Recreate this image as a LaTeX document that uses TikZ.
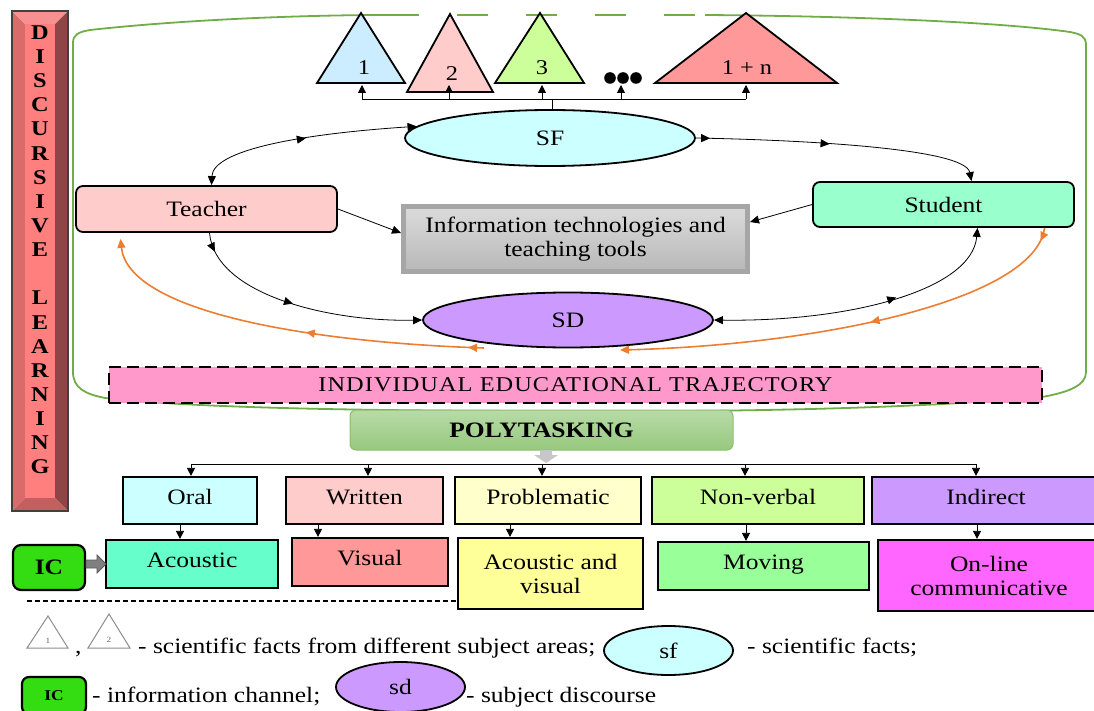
\documentclass[tikz,border=0pt]{standalone}
\usepackage{fontspec}
\setmainfont{Liberation Serif}[FakeStretch=1.16]
\usetikzlibrary{arrows.meta,decorations.markings,shapes.geometric}
\definecolor{cTa}{HTML}{CCECFF}
\definecolor{cTb}{HTML}{FFCCCC}
\definecolor{cTc}{HTML}{CCFF99}
\definecolor{cTn}{HTML}{FF9999}
\definecolor{cSF}{HTML}{CCFFFF}
\definecolor{cSD}{HTML}{CC99FF}
\definecolor{cTeach}{HTML}{FFCCCC}
\definecolor{cStud}{HTML}{99FFCC}
\definecolor{cPink}{HTML}{FF99CC}
\definecolor{cOral}{HTML}{CCFFFF}
\definecolor{cWrit}{HTML}{FFCCCC}
\definecolor{cProb}{HTML}{FFFFCC}
\definecolor{cNonv}{HTML}{CCFF99}
\definecolor{cIndi}{HTML}{CC99FF}
\definecolor{cAcou}{HTML}{66FFCC}
\definecolor{cVisu}{HTML}{FF9999}
\definecolor{cAV}{HTML}{FFFF99}
\definecolor{cMov}{HTML}{99FF99}
\definecolor{cOnl}{HTML}{FF66FF}
\definecolor{cIC}{HTML}{33DD11}
\definecolor{cOrange}{HTML}{ED7D31}
\definecolor{cGreen}{HTML}{70AD47}
\definecolor{barF}{HTML}{FF7F7F}
\definecolor{barL}{HTML}{D96B6B}
\definecolor{barR}{HTML}{8E4545}
\definecolor{barT}{HTML}{F79090}
\definecolor{barB}{HTML}{C45F5F}
\begin{document}
\begin{tikzpicture}[x=1pt,y=-1pt,
  base/.style={inner sep=0pt, align=center, font=\fontsize{22}{24}\selectfont},
  rnd/.style={base, rectangle, draw=black, line width=1.8pt, rounded corners=7pt},
  rowbox/.style={base, rectangle, draw=black, line width=2.2pt, text height=15pt, text depth=8pt},
  twobox/.style={base, rectangle, draw=black, line width=2.2pt},
  ell/.style={base, ellipse, draw=black, line width=1.8pt},
  tri/.style={draw=black, line width=1.8pt, line join=miter},
  trilabel/.style={inner sep=0pt, font=\fontsize{21}{22}\selectfont},
  conn/.style={draw=black, line width=0.8pt},
  tip/.style={-{Triangle[length=9pt,width=8pt]}},
  stip/.style={-{Triangle[length=8pt,width=8pt]}},
  both/.style={{Triangle[length=9pt,width=8pt]}-{Triangle[length=9pt,width=8pt]}},
  mk/.style={postaction={decorate,decoration={markings,mark=at position #1 with {\arrow{Triangle[length=9pt,width=8pt]}}}}},
  orange/.style={draw=cOrange, line width=1.6pt},
  grline/.style={draw=cGreen, line width=1.8pt},
  barletter/.style={inner sep=0pt, font=\fontsize{21}{22}\selectfont\bfseries},
  legtext/.style={inner sep=0pt, anchor=base west, font=\fontsize{22}{24}\selectfont}
]
\useasboundingbox (0,0) rectangle (1094,711);

% ---------- left bar ----------
\fill[barL] (12,11) -- (25,24) -- (25,498) -- (12,511) -- cycle;
\fill[barR] (68,11) -- (55,24) -- (55,498) -- (68,511) -- cycle;
\fill[barT] (12,11) -- (68,11) -- (55,24) -- (25,24) -- cycle;
\fill[barB] (12,511) -- (68,511) -- (55,498) -- (25,498) -- cycle;
\fill[barF] (25,24) rectangle (55,498);
\draw[line width=1.2pt, draw=black!75] (12,11) rectangle (68,511);
\foreach \l [count=\i] in {D,I,S,C,U,R,S,I,V,E,{},L,E,A,R,N,I,N,G}
  \node[barletter] (bl\i) at (40,{32.5+(\i-1)*24.14}) {\l};

% ---------- green outline ----------
\draw[grline] (388,15) -- (386,15) .. controls (300,15) and (180,20) .. (90,30)
  .. controls (78,32) and (73,35) .. (73,43) -- (73,372)
  .. controls (73,388) and (85,394) .. (105,398)
  .. controls (200,409) and (400,411) .. (560,411)
  .. controls (700,412) and (900,410) .. (1042,397)
  .. controls (1070,392) and (1086,385) .. (1086,372) -- (1086,45)
  .. controls (1086,36) and (1080,34) .. (1070,32)
  .. controls (1000,22) and (850,16) .. (705,15);
\draw[grline, dash pattern=on 31pt off 38pt] (388,15) -- (705,15);

% ---------- triangles ----------
\filldraw[tri, fill=cTa] (317,83) -- (361,13) -- (405,83) -- cycle;
\filldraw[tri, fill=cTb] (407,92) -- (450,14) -- (493,92) -- cycle;
\filldraw[tri, fill=cTc] (495,83) -- (540,13) -- (584,83) -- cycle;
\filldraw[tri, fill=cTn] (655,83) -- (746,13) -- (837,83) -- cycle;
\node[trilabel] (lt1) at (364,68) {1};
\node[trilabel] (lt2) at (452,74) {2};
\node[trilabel] (lt3) at (542,68) {3};
\node[trilabel] (ltn) at (747,68) {1 + n};
\fill (610,78) circle (5.8pt) (623,78) circle (5.8pt) (636,78) circle (5.8pt);

% ---------- main nodes ----------
\node[ell, fill=cSF, minimum width=290pt, minimum height=56pt] (SF) at (550,138) {SF};
\node[ell, fill=cSD, minimum width=290pt, minimum height=55pt] (SD) at (568,320) {SD};
\node[rnd, fill=cTeach, minimum width=261pt, minimum height=46pt] (teacher) at (206.5,209) {Teacher};
\node[rnd, fill=cStud, minimum width=261pt, minimum height=45pt] (student) at (943.5,204.5) {Student};
\node[base, rectangle, draw=black!35, line width=5pt, top color=black!14, bottom color=black!28,
      minimum width=344pt, minimum height=65pt] (info) at (575.5,239)
      {Information technologies and\\teaching tools};

% ---------- tree to triangles ----------
\coordinate (stem) at (552,99);
\foreach \x [count=\i] in {362,449,542,621,746} {
  \coordinate (ta\i) at (\x,99);
  \coordinate (tt\i) at (\x,85);
}
\draw[conn] ([xshift=2pt]SF.north) -- (stem);
\draw[conn] (ta1) -- (ta5);
\foreach \i in {1,...,5} \draw[conn, stip] (ta\i) -- (tt\i);

% ---------- black connectors ----------
\draw[conn, both, mk=0.5] ([xshift=5pt]teacher.north) .. controls (213,150) and (300,134) .. (SF.175);
\draw[conn, tip, mk=0.05, mk=0.47] (SF.east) .. controls (800,140) and (965,148) .. ([xshift=28pt]student.north);
\draw[conn, tip, mk=0.08, mk=0.47] ([xshift=3pt]teacher.south) .. controls (215,295) and (330,322) .. (SD.west);
\draw[conn, both, mk=0.62] (SD.east) .. controls (850,322) and (972,290) .. ([xshift=34pt]student.south);
\draw[conn, tip] (teacher.east) -- ([yshift=6pt]info.west);
\draw[conn, tip] (student.west) -- ([yshift=17pt]info.east);

% ---------- orange connectors ----------
\coordinate (oa) at (484,348);
\coordinate (ob) at (620,350);
\draw[orange, tip, mk=0.04, mk=0.45] (oa) .. controls (300,342) and (128,310) .. ([xshift=-86pt,yshift=-6pt]teacher.south);
\draw[orange, tip, mk=0.03, mk=0.45] ([xshift=101pt]student.south) .. controls (1035,300) and (820,345) .. (ob);

% ---------- trajectory & polytasking ----------
\node[base, rectangle, draw=black, fill=cPink, line width=2.5pt, dash pattern=on 12pt off 6pt,
      minimum width=933pt, minimum height=36pt,
      font=\fontsize{21}{23}\selectfont\addfontfeature{LetterSpace=5}] (traj) at (575.5,385)
      {INDIVIDUAL EDUCATIONAL TRAJECTORY};
\node[base, rectangle, rounded corners=6pt, draw=cGreen!80, line width=1pt,
      top color={rgb,255:red,184;green,219;blue,168}, bottom color={rgb,255:red,151;green,201;blue,126},
      minimum width=383pt, minimum height=40pt, font=\fontsize{22}{24}\selectfont\bfseries] (poly) at (541.5,430)
      {POLYTASKING};
\fill[black!22] (540,450) -- (552,450) -- (552,455) -- (558,455) -- (546,463) -- (534,455) -- (540,455) -- cycle;

% ---------- rows ----------
\node[rowbox, fill=cOral, minimum width=134pt, minimum height=47pt] (oral) at (190,500.5) {Oral};
\node[rowbox, fill=cWrit, minimum width=157pt, minimum height=47pt] (written) at (364.5,500.5) {Written};
\node[rowbox, fill=cProb, minimum width=186pt, minimum height=47pt] (probl) at (548,500.5) {Problematic};
\node[rowbox, fill=cNonv, minimum width=212pt, minimum height=47pt] (nonv) at (758,500.5) {Non-verbal};
\node[rowbox, fill=cIndi, minimum width=228pt, minimum height=47pt] (indir) at (986,500.5) {Indirect};

\node[rowbox, fill=cAcou, minimum width=172pt, minimum height=48pt] (acou) at (192,564) {Acoustic};
\node[rowbox, fill=cVisu, minimum width=156pt, minimum height=48pt] (visu) at (370,562) {Visual};
\node[twobox, fill=cAV, minimum width=185pt, minimum height=71pt] (av) at (550.5,573.5) {Acoustic and\\visual};
\node[rowbox, fill=cMov, minimum width=211pt, minimum height=48pt] (mov) at (763.5,566) {Moving};
\node[twobox, fill=cOnl, minimum width=222pt, minimum height=71pt] (onl) at (989,575.5) {On-line\\communicative};

\foreach \x [count=\i] in {191,368,542,745,976} \coordinate (h\i) at (\x,464);
\draw[conn] (h1) -- (h5);
\draw[conn, stip] (h1) -- (h1 |- oral.north);
\draw[conn, stip] (h2) -- (h2 |- written.north);
\draw[conn, stip] (h3) -- (h3 |- probl.north);
\draw[conn, stip] (h4) -- (h4 |- nonv.north);
\draw[conn, stip] (h5) -- (h5 |- indir.north);

\draw[conn, stip] ([xshift=-10pt]oral.south) -- ([xshift=-10pt]oral.south |- acou.north);
\draw[conn, stip] ([xshift=-46.5pt]written.south) -- ([xshift=-46.5pt]written.south |- visu.north);
\draw[conn, stip] ([xshift=-38pt]probl.south) -- ([xshift=-38pt]probl.south |- av.north);
\draw[conn, stip] ([xshift=-12pt]nonv.south) -- ([xshift=-12pt]nonv.south |- mov.north);
\draw[conn, stip] ([xshift=-9pt]indir.south) -- ([xshift=-9pt]indir.south |- onl.north);

% ---------- IC ----------
\node[base, rectangle, rounded corners=8pt, draw=black, line width=2.2pt, fill=cIC,
      minimum width=72pt, minimum height=45pt, font=\fontsize{22}{24}\selectfont\bfseries] (ic) at (49,567.5) {IC};
\filldraw[fill=black!50, draw=black!65, line width=0.8pt]
  (86,560) -- (97,560) -- (97,555) -- (106,564) -- (97,573) -- (97,568) -- (86,568) -- cycle;

\coordinate (dl) at (27,601);
\draw[line width=1.6pt, dash pattern=on 5pt off 3pt] (dl) -- (dl -| av.west);

% ---------- legend ----------
\draw[draw=black!45, line width=1pt] (27,648) -- (48,616) -- (68,648) -- cycle;
\draw[draw=black!45, line width=1pt] (88,648) -- (109,614) -- (130,648) -- cycle;
\node[inner sep=0pt, font=\fontsize{8}{9}\selectfont, text=black!60] (lg1) at (48,641) {1};
\node[inner sep=0pt, font=\fontsize{8}{9}\selectfont, text=black!60] (lg2) at (109,640) {2};
\node[legtext] (comma) at (75,653) {,};
\node[legtext] (l1) at (138,653) {- scientific facts from different subject areas;};
\node[ell, fill=cSF, minimum width=129pt, minimum height=49pt] (sfl) at (668.5,650.5) {sf};
\node[legtext] (l2) at (747,653) {- scientific facts;};
\node[base, rectangle, rounded corners=7pt, draw=black, line width=2.2pt, fill=cIC,
      minimum width=64pt, minimum height=37pt, font=\fontsize{15}{17}\selectfont\bfseries] (icl) at (54,695.5) {IC};
\node[legtext] (l3) at (92,702) {- information channel;};
\node[ell, fill=cSD, minimum width=129pt, minimum height=50pt] (sdl) at (400.5,687) {sd};
\node[legtext] (l4) at (466,702) {- subject discourse};
\end{tikzpicture}
\end{document}
